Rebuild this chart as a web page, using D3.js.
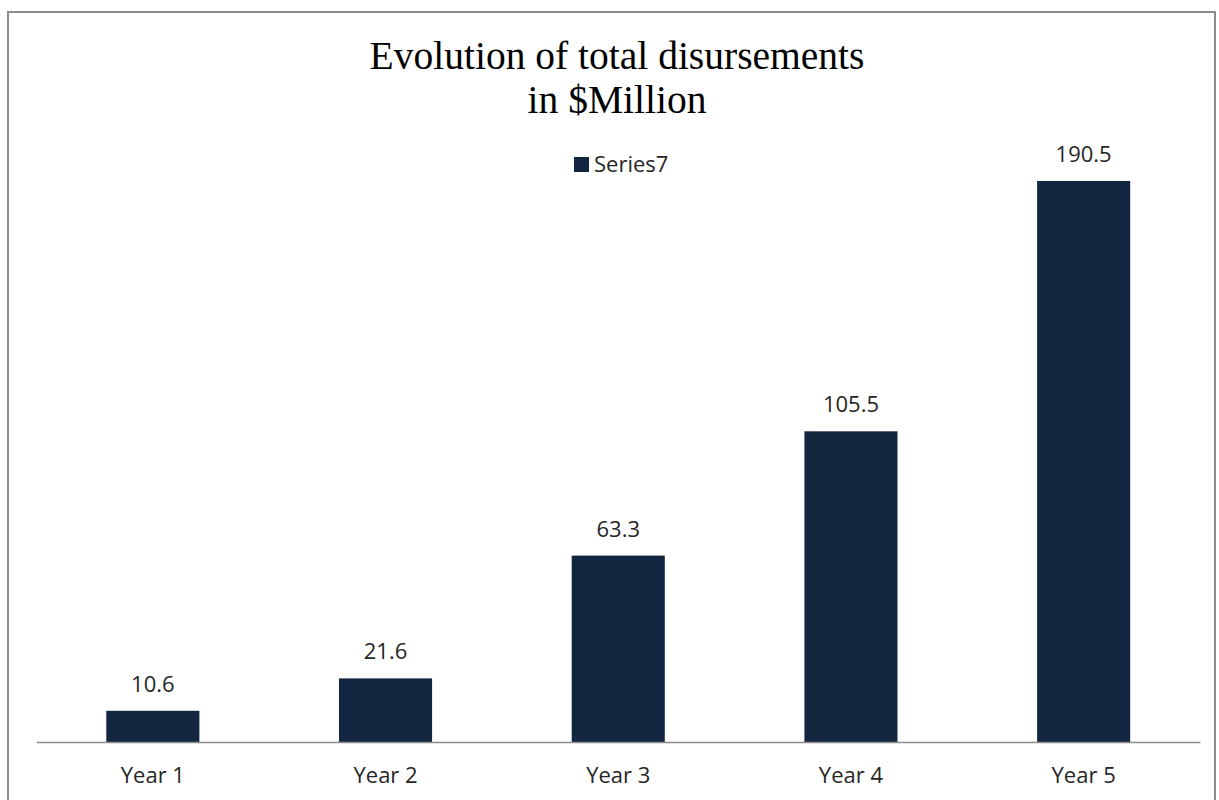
<!DOCTYPE html>
<html>
<head>
<meta charset="utf-8">
<script src="https://cdn.jsdelivr.net/npm/d3@7"></script>
<style>
  html, body { margin: 0; padding: 0; background: #fff; }
  svg { display: block; }
</style>
</head>
<body>
<script>
"use strict";

const categories = ["Year 1", "Year 2", "Year 3", "Year 4", "Year 5"];
const values = [10.6, 21.6, 63.3, 105.5, 190.5];
const seriesName = "Series7";
const titleLines = ["Evolution of total disursements", "in $Million"];

const W = 1219, H = 800;
const barColor = "#12263f";
const sans = "'Open Sans', 'Noto Sans', sans-serif";

const svg = d3.select("body").append("svg")
  .attr("width", W)
  .attr("height", H);

svg.append("rect")
  .attr("width", W).attr("height", H)
  .attr("fill", "#fff");

// chart frame
svg.append("rect")
  .attr("x", 8).attr("y", 12)
  .attr("width", 1207).attr("height", 800)
  .attr("fill", "none")
  .attr("stroke", "#8c8c8c")
  .attr("stroke-width", 2);

const x = d3.scaleBand()
  .domain(categories)
  .range([36.5, 1200])
  .paddingInner(0.6)
  .paddingOuter(0.3);

const y = d3.scaleLinear()
  .domain([0, 200])
  .range([742, 153]);

// title
svg.append("text")
  .attr("font-family", "'Liberation Serif', 'Times New Roman', serif")
  .attr("font-size", 39.5)
  .attr("fill", "#000")
  .attr("text-anchor", "middle")
  .selectAll("tspan")
  .data(titleLines)
  .join("tspan")
  .attr("x", 617)
  .attr("y", (d, i) => 69 + i * 44)
  .text(d => d);

// bars
svg.append("g")
  .selectAll("rect")
  .data(values)
  .join("rect")
  .attr("x", (d, i) => x(categories[i]))
  .attr("y", d => y(d))
  .attr("width", x.bandwidth())
  .attr("height", d => y(0) - y(d))
  .attr("fill", barColor);

// value labels
svg.append("g")
  .selectAll("text")
  .data(values)
  .join("text")
  .attr("x", (d, i) => x(categories[i]) + x.bandwidth() / 2)
  .attr("y", d => y(d) - 19)
  .attr("text-anchor", "middle")
  .attr("font-family", sans)
  .attr("font-size", 22)
  .attr("fill", "#262626")
  .text(d => d.toFixed(1));

// x axis
const xAxis = svg.append("g")
  .attr("transform", `translate(0,${y(0)})`)
  .call(d3.axisBottom(x).tickSize(0).tickPadding(25));
xAxis.select(".domain")
  .attr("stroke", "#8c8c8c")
  .attr("stroke-width", 1.5);
xAxis.selectAll("text")
  .attr("font-family", sans)
  .attr("font-size", 22)
  .attr("fill", "#262626");

// legend
const legend = svg.append("g").attr("transform", "translate(574,157)");
legend.append("rect")
  .attr("width", 15).attr("height", 15)
  .attr("fill", barColor);
legend.append("text")
  .attr("x", 20).attr("y", 15)
  .attr("font-family", sans)
  .attr("font-size", 22)
  .attr("fill", "#262626")
  .text(seriesName);
</script>
</body>
</html>
